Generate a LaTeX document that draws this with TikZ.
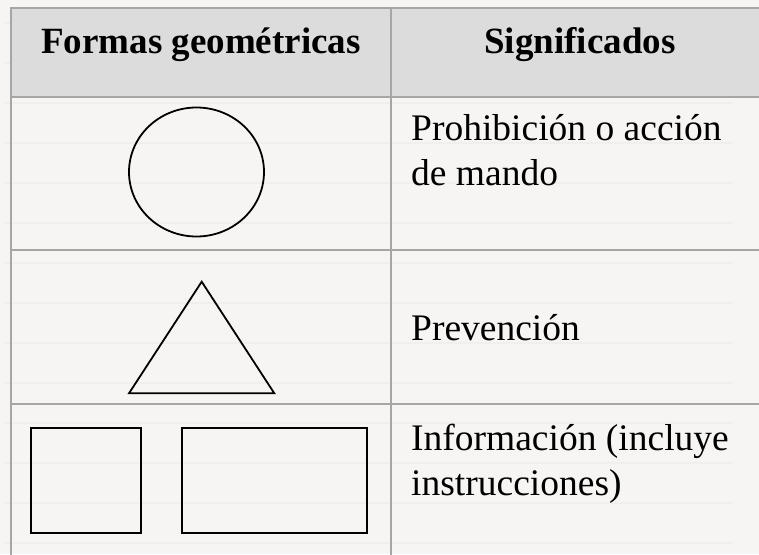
\documentclass[tikz,border=0pt]{standalone}
\usepackage{fontspec}
\setmainfont{Liberation Serif}
\usetikzlibrary{shapes.geometric, positioning}

\definecolor{pagebg}{HTML}{F6F5F3}
\definecolor{headgrey}{HTML}{DCDCDC}
\definecolor{gridgrey}{HTML}{A6A6A6}
\definecolor{faintline}{HTML}{F0EFED}

\begin{document}
\begin{tikzpicture}[
    x=1pt, y=-1pt,
    grid/.style={draw=gridgrey, line width=2pt},
    faint/.style={draw=faintline, line width=2.5pt},
    outline/.style={draw=black, line width=1.8pt},
    head/.style={font=\fontsize{37}{45}\selectfont\bfseries, anchor=base, inner sep=0pt},
    cell/.style={font=\fontsize{37.5}{45}\selectfont, anchor=base west, align=left, inner sep=0pt}
]
% page and background lines
\fill[pagebg] (0,0) rectangle (759,554);
\useasboundingbox (0,0) rectangle (759,554);
\foreach \y in {23,63,...,543}
    \draw[faint] (5,\y) -- (733,\y);

% header row
\fill[headgrey] (11,8) rectangle (760,97);
\node[head] (hshape) at (201,53) {Formas geométricas};
\node[head] (hmean) at (580,53) {Significados};

% grid
\draw[grid] (760,8) -- (11,8) -- (11,556);
\draw[grid] (391,8) -- (391,556);
\foreach \y in {97,250,404}
    \draw[grid] (11,\y) -- (760,\y);

% shapes
\node[outline, ellipse, minimum width=135pt, minimum height=129pt, inner sep=0pt] (circ) at (196.5,172) {};
\coordinate (tritop) at (201.7,281.7);
\coordinate (trileft) at (129,393.3);
\coordinate (triright) at (274.3,393.3);
\draw[outline, line join=miter] (tritop) -- (triright) -- (trileft) -- cycle;
\node[outline, rectangle, minimum width=110pt, minimum height=105pt, inner sep=0pt] (square) at (86,480.2) {};
\node[outline, rectangle, minimum width=185pt, minimum height=105pt, inner sep=0pt] (panel) at (274.7,480.2) {};

% meanings (base anchor sits on the last line)
\node[cell] (prohib) at (411,185) {Prohibición o acción\\de mando};
\node[cell] (prev) at (411,340) {Prevención};
\node[cell] (info) at (411,495) {Información (incluye\\instrucciones)};

\end{tikzpicture}
\end{document}
